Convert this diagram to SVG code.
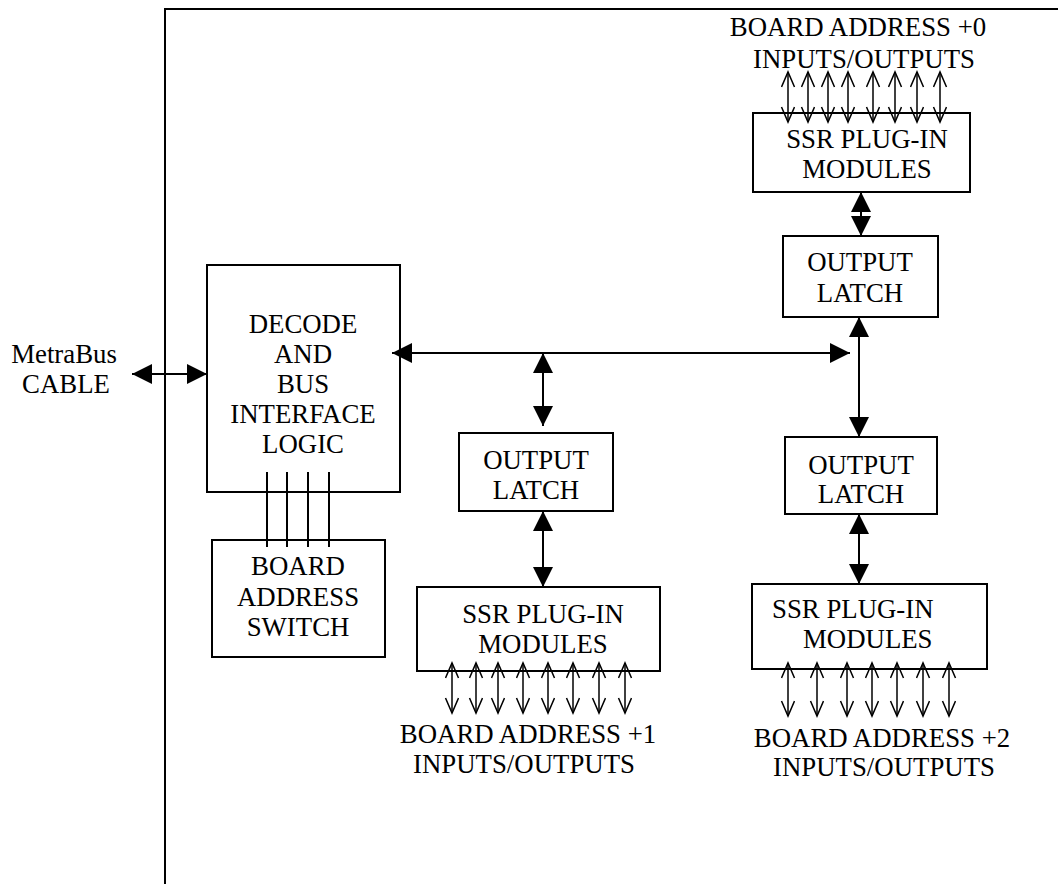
<svg xmlns="http://www.w3.org/2000/svg" width="1058" height="884" viewBox="0 0 1058 884" font-family="'Liberation Serif', 'Times New Roman', Tinos, 'DejaVu Serif', serif">
  <style>
    .box { fill: none; stroke: #000; stroke-width: 2; }
    text { font-family: 'Liberation Serif', 'Times New Roman', Tinos, 'DejaVu Serif', serif; font-size: 26.8px; fill: #000; }
    .lbl { text-anchor: middle; }
    .wire { stroke: #000; stroke-width: 2; fill: none; }
    .bus { stroke: #000; stroke-width: 2; fill: none; marker-start: url(#solid); marker-end: url(#solid); }
    .io { stroke: #000; stroke-width: 1.5; fill: none; marker-start: url(#open); marker-end: url(#open); }
  </style>
  <defs>
    <marker id="solid" markerUnits="userSpaceOnUse" markerWidth="20" markerHeight="20" refX="20" refY="10" orient="auto-start-reverse">
      <path d="M0,0 L20,10 L0,20 Z" fill="#000"/>
    </marker>
    <marker id="open" markerUnits="userSpaceOnUse" markerWidth="18" markerHeight="16" refX="16" refY="7" orient="auto-start-reverse">
      <path d="M1,0.5 L16,7 L1,13.5" fill="none" stroke="#000" stroke-width="1.5"/>
    </marker>
  </defs>

  <rect width="1058" height="884" fill="#fff"/>

  <!-- board outline -->
  <path class="wire" d="M165,884 V9 H1058"/>

  <!-- connectors -->
  <g id="connectors">
    <!-- address switch wires -->
    <line class="wire" x1="267" y1="472" x2="267" y2="547"/>
    <line class="wire" x1="287" y1="472" x2="287" y2="547"/>
    <line class="wire" x1="308" y1="472" x2="308" y2="547"/>
    <line class="wire" x1="329" y1="472" x2="329" y2="547"/>
    <!-- cable -->
    <line class="bus" x1="132" y1="374" x2="207" y2="374"/>
    <!-- internal bus -->
    <line class="bus" x1="392" y1="353" x2="850" y2="353"/>
    <line class="bus" x1="543" y1="353" x2="543" y2="426"/>
    <line class="bus" x1="543" y1="511" x2="543" y2="587"/>
    <line class="bus" x1="859" y1="317" x2="859" y2="437"/>
    <line class="bus" x1="859" y1="514" x2="859" y2="584"/>
    <line class="bus" x1="861" y1="192" x2="861" y2="236"/>
    <!-- I/O lines, board +0 -->
    <line class="io" x1="788" y1="72" x2="788" y2="122"/>
    <line class="io" x1="808" y1="72" x2="808" y2="122"/>
    <line class="io" x1="828" y1="72" x2="828" y2="122"/>
    <line class="io" x1="848" y1="72" x2="848" y2="122"/>
    <line class="io" x1="873" y1="72" x2="873" y2="122"/>
    <line class="io" x1="895" y1="72" x2="895" y2="122"/>
    <line class="io" x1="917" y1="72" x2="917" y2="122"/>
    <line class="io" x1="940" y1="72" x2="940" y2="122"/>
    <!-- I/O lines, board +1 -->
    <line class="io" x1="452" y1="663" x2="452" y2="713"/>
    <line class="io" x1="476" y1="663" x2="476" y2="713"/>
    <line class="io" x1="498" y1="663" x2="498" y2="713"/>
    <line class="io" x1="523" y1="663" x2="523" y2="713"/>
    <line class="io" x1="548" y1="663" x2="548" y2="713"/>
    <line class="io" x1="573" y1="663" x2="573" y2="713"/>
    <line class="io" x1="599" y1="663" x2="599" y2="713"/>
    <line class="io" x1="625" y1="663" x2="625" y2="713"/>
    <!-- I/O lines, board +2 -->
    <line class="io" x1="788" y1="663" x2="788" y2="716"/>
    <line class="io" x1="817" y1="663" x2="817" y2="716"/>
    <line class="io" x1="847" y1="663" x2="847" y2="716"/>
    <line class="io" x1="872" y1="663" x2="872" y2="716"/>
    <line class="io" x1="897" y1="663" x2="897" y2="716"/>
    <line class="io" x1="923" y1="663" x2="923" y2="716"/>
    <line class="io" x1="949" y1="663" x2="949" y2="716"/>
  </g>

  <g id="cable-label">
    <text class="lbl" x="64" y="363">MetraBus</text>
    <text class="lbl" x="66" y="393">CABLE</text>
  </g>

  <g id="decode">
    <rect class="box" x="207" y="265" width="193" height="227"/>
    <text class="lbl" x="303" y="333">DECODE</text>
    <text class="lbl" x="303" y="363">AND</text>
    <text class="lbl" x="303" y="393">BUS</text>
    <text class="lbl" x="303" y="423">INTERFACE</text>
    <text class="lbl" x="303" y="453">LOGIC</text>
  </g>

  <g id="address-switch">
    <rect class="box" x="212" y="540" width="173" height="117"/>
    <text class="lbl" x="298" y="575">BOARD</text>
    <text class="lbl" x="298" y="606">ADDRESS</text>
    <text class="lbl" x="298" y="636">SWITCH</text>
  </g>

  <g id="latch-1">
    <rect class="box" x="459" y="433" width="154" height="78"/>
    <text class="lbl" x="536" y="469">OUTPUT</text>
    <text class="lbl" x="536" y="499">LATCH</text>
  </g>

  <g id="ssr-1">
    <rect class="box" x="417" y="587" width="243" height="84"/>
    <text class="lbl" x="543" y="623">SSR PLUG-IN</text>
    <text class="lbl" x="543" y="653">MODULES</text>
  </g>

  <g id="io-1-label">
    <text class="lbl" x="528" y="743">BOARD ADDRESS +1</text>
    <text class="lbl" x="524" y="773">INPUTS/OUTPUTS</text>
  </g>

  <g id="ssr-0">
    <rect class="box" x="753" y="113" width="217" height="79"/>
    <text class="lbl" x="867" y="148">SSR PLUG-IN</text>
    <text class="lbl" x="867" y="178">MODULES</text>
  </g>

  <g id="io-0-label">
    <text class="lbl" x="858" y="36">BOARD ADDRESS +0</text>
    <text class="lbl" x="864" y="68">INPUTS/OUTPUTS</text>
  </g>

  <g id="latch-0">
    <rect class="box" x="783" y="236" width="155" height="81"/>
    <text class="lbl" x="860" y="271">OUTPUT</text>
    <text class="lbl" x="860" y="302">LATCH</text>
  </g>

  <g id="latch-2">
    <rect class="box" x="785" y="437" width="152" height="77"/>
    <text class="lbl" x="861" y="474">OUTPUT</text>
    <text class="lbl" x="861" y="503">LATCH</text>
  </g>

  <g id="ssr-2">
    <rect class="box" x="752" y="584" width="235" height="85"/>
    <text x="772" y="618">SSR PLUG-IN</text>
    <text x="803" y="648">MODULES</text>
  </g>

  <g id="io-2-label">
    <text class="lbl" x="882" y="747">BOARD ADDRESS +2</text>
    <text class="lbl" x="884" y="776">INPUTS/OUTPUTS</text>
  </g>
</svg>
